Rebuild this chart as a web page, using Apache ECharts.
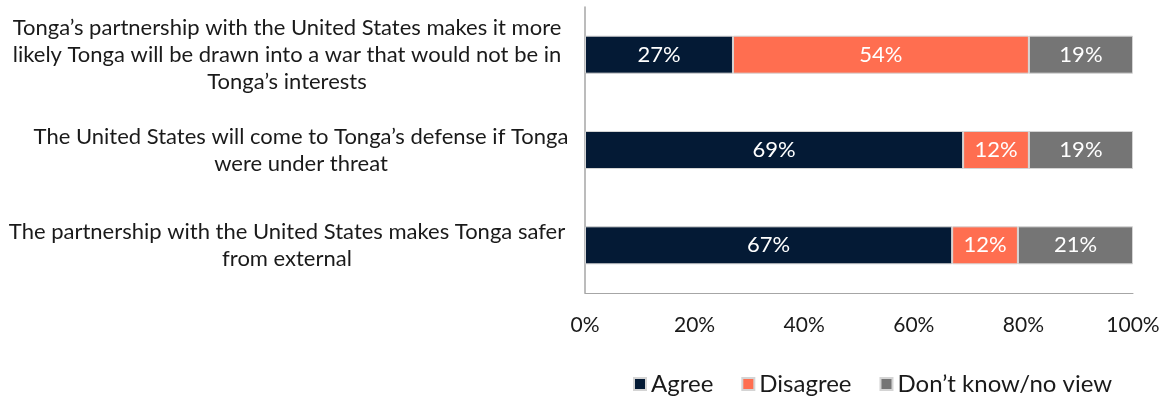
<!DOCTYPE html>
<html>
<head>
<meta charset="utf-8">
<script src="https://cdn.jsdelivr.net/npm/echarts@6/dist/echarts.min.js"></script>
<style>
  html, body { margin: 0; padding: 0; background: #ffffff; }
  #chart { width: 1163px; height: 401px; }
</style>
</head>
<body>
<div id="chart"></div>
<script>
// Survey statements (top to bottom)
const statements = [
  'Tonga’s partnership with the United States makes it more\nlikely Tonga will be drawn into a war that would not be in\nTonga’s interests',
  'The United States will come to Tonga’s defense if Tonga\nwere under threat',
  'The partnership with the United States makes Tonga safer\nfrom external'
];

// Share of respondents, percent
const agree = [27, 69, 67];
const disagree = [54, 12, 12];
const dontKnow = [19, 19, 21];

const seriesNames = ['Agree', 'Disagree', 'Don’t know/no view'];
const seriesColors = ['#041a35', '#ff6e50', '#757575'];
const tickValues = [0, 20, 40, 60, 80, 100];

const FONT = 'Lato';

function barSeries(name, values, color) {
  return {
    name: name,
    type: 'bar',
    stack: 'total',
    barWidth: 38,
    data: values,
    itemStyle: { color: color, borderColor: '#d4d4d4', borderWidth: 1 },
    label: {
      show: true,
      position: 'inside',
      formatter: '{c}%',
      color: '#ffffff',
      fontFamily: FONT,
      fontSize: 22
    },
    emphasis: { disabled: true }
  };
}

const chart = echarts.init(document.getElementById('chart'), null, { renderer: 'canvas' });

chart.setOption({
  animation: false,
  backgroundColor: '#ffffff',
  grid: {
    left: 585, right: 30, top: 7, bottom: 108,
    containLabel: false,
    outerBoundsMode: 'none'
  },
  legend: {
    left: 628,
    top: 367,
    itemWidth: 12,
    itemHeight: 12,
    itemGap: 28,
    icon: 'rect',
    data: seriesNames,
    textStyle: { fontFamily: FONT, fontSize: 24, color: '#1a1a1a' }
  },
  xAxis: {
    type: 'value',
    min: tickValues[0],
    max: tickValues[tickValues.length - 1],
    interval: 20,
    axisLine: { show: true, lineStyle: { color: '#a6a6a6', width: 1 } },
    axisTick: { show: false },
    splitLine: { show: false },
    axisLabel: {
      formatter: '{value}%',
      fontFamily: FONT,
      fontSize: 21,
      color: '#1a1a1a',
      margin: 22
    }
  },
  yAxis: {
    type: 'category',
    inverse: true,
    data: statements.map(function (s, i) {
      return i === 1
        ? { value: s, textStyle: { align: 'center', padding: [0, 0, 0, 28] } }
        : { value: s, textStyle: { align: 'center' } };
    }),
    axisLine: { show: true, lineStyle: { color: '#a6a6a6', width: 1.5 } },
    axisTick: { show: false },
    axisLabel: {
      align: 'center',
      margin: 298,
      fontFamily: FONT,
      fontSize: 22,
      lineHeight: 27,
      color: '#1a1a1a'
    }
  },
  series: [
    barSeries(seriesNames[0], agree, seriesColors[0]),
    barSeries(seriesNames[1], disagree, seriesColors[1]),
    barSeries(seriesNames[2], dontKnow, seriesColors[2])
  ]
});
</script>
</body>
</html>
